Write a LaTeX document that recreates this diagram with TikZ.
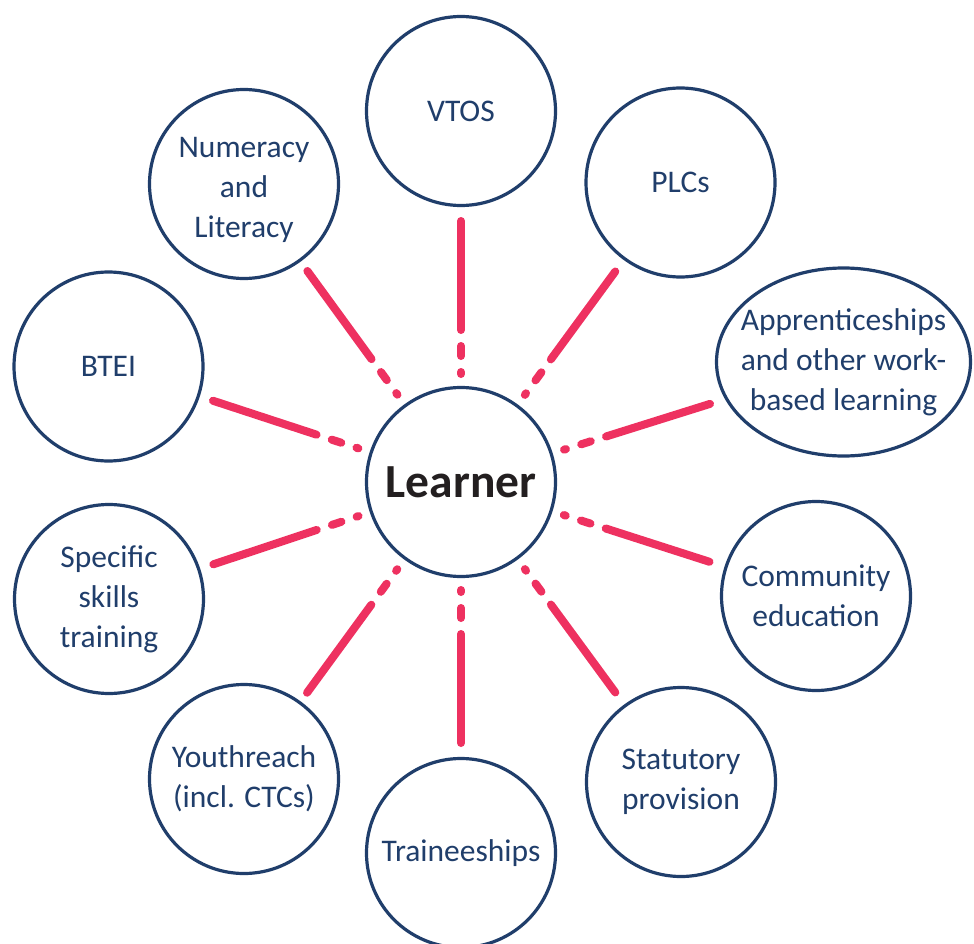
\documentclass[tikz,border=0pt]{standalone}
\usepackage{fontspec}
\setmainfont{Carlito}
\usetikzlibrary{calc,shapes.geometric}
\definecolor{navy}{HTML}{203E6B}
\definecolor{pinkc}{HTML}{EE3160}
\definecolor{ink}{HTML}{231F20}
\begin{document}
\begin{tikzpicture}[x=1pt,y=-1pt,
  item/.style={circle,draw=navy,line width=3.2pt,minimum size=189pt,inner sep=0pt,
    align=center,text=navy,font=\fontsize{31.5}{40}\selectfont},
  oval/.style={ellipse,draw=navy,line width=3.2pt,minimum width=254pt,minimum height=188pt,
    inner xsep=-24pt,inner ysep=0pt,align=center,text=navy,font=\fontsize{31.5}{40}\selectfont},
  conn/.style={draw=pinkc,line width=8pt,line cap=round,
    dash pattern=on 2pt off 16pt on 10pt off 16pt on 140pt}]
\useasboundingbox[fill=white] (0,0) rectangle (974,944);
\node[item,font=\fontsize{47.5}{50}\selectfont\bfseries,text=ink] (L) at (461,482) {Learner};
\node[item] (V) at (461,111) {VTOS};
\node[item] (P) at (680.5,182.5) {PLCs};
\node[oval] (A) at (843.5,362) {Apprenticeships\\and other work-\\based learning};
\node[item] (C) at (816,596) {Community\\education};
\node[item] (S) at (681,782) {Statutory\\provision};
\node[item] (T) at (461,853) {Traineeships};
\node[item] (Y) at (244,779) {Youthreach\\(incl. CTCs)};
\node[item] (K) at (109,599) {Specific\\skills\\training};
\node[item] (B) at (108.5,366.5) {BTEI};
\node[item] (N) at (244,184) {\\[-8pt]Numeracy\\and\\Literacy};
\foreach \n in {V,P,A,C,S,T,Y,K,B,N}
  \draw[conn] ($(L.center)!108pt!(\n.center)$) -- ($(L.center)!261pt!(\n.center)$);
\end{tikzpicture}
\end{document}
